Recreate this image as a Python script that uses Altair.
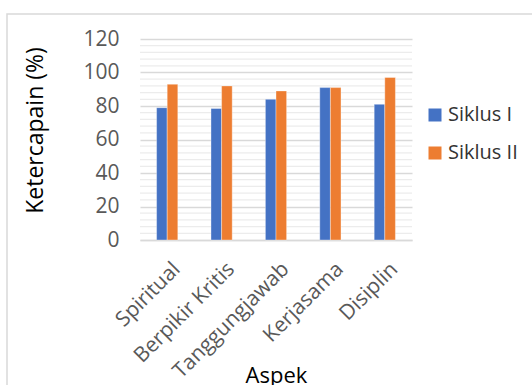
import altair as alt
import pandas as pd

categories = ["Spiritual", "Berpikir Kritis", "Tanggungjawab", "Kerjasama", "Disiplin"]
series_names = ["Siklus I", "Siklus II"]
siklus1 = [79, 78.5, 84, 91, 81]
siklus2 = [93, 92, 89, 91, 97]
y_ticks = [0, 20, 40, 60, 80, 100, 120]
minor_ticks = [v for v in range(4, 120, 4) if v % 20 != 0]
colors = ["#4472C4", "#ED7D31"]

rows = []
for c, a, b in zip(categories, siklus1, siklus2):
    rows.append({"Aspek": c, "Seri": series_names[0], "Nilai": a})
    rows.append({"Aspek": c, "Seri": series_names[1], "Nilai": b})
df = pd.DataFrame(rows)
minor_df = pd.DataFrame({"Nilai": minor_ticks})

FONT = "Open Sans"
yscale = alt.Scale(domain=[0, 120], nice=False, zero=True)

y_axis = alt.Axis(
    title="Ketercapain (%)",
    values=y_ticks,
    labelOverlap=False,
    labelFont=FONT,
    labelFontSize=21,
    labelColor="#595959",
    labelPadding=21,
    ticks=False,
    tickSize=0,
    domain=False,
    gridColor="#d9d9d9",
    gridWidth=1.5,
    titleFont=FONT,
    titleFontSize=23,
    titleFontWeight="normal",
    titleColor="#000000",
    titleX=-105,
    titleY=91,
    titleAlign="center",
    titleBaseline="middle",
)

frame = alt.Chart(pd.DataFrame({"k": [0]})).mark_rect(
    fill=None, stroke="#d9d9d9", strokeWidth=1.5
).encode(x=alt.value(-133), x2=alt.value(600), y=alt.value(-25), y2=alt.value(600))

minor = alt.Chart(minor_df).mark_rule(color="#ececec", strokeWidth=1.2).encode(
    y=alt.Y("Nilai:Q", scale=yscale, axis=y_axis)
)

bars = alt.Chart(df).mark_bar(stroke="#ffffff", strokeWidth=0.6, strokeOpacity=0.6).encode(
    x=alt.X(
        "Aspek:N",
        sort=categories,
        scale=alt.Scale(paddingInner=0.61, paddingOuter=0.305),
        axis=alt.Axis(
            title="Aspek",
            labelAngle=-45,
            labelAlign="right",
            labelBaseline="top",
            labelFont=FONT,
            labelFontSize=21,
            labelColor="#595959",
            labelPadding=18,
            labelOffset=2,
            ticks=False,
            tickSize=0,
            domainColor="#d9d9d9",
            domainWidth=1.5,
            titleFont=FONT,
            titleFontSize=22,
            titleFontWeight="normal",
            titleColor="#000000",
            titleY=142,
            titleBaseline="alphabetic",
        ),
    ),
    xOffset=alt.XOffset("Seri:N", sort=series_names),
    y=alt.Y("Nilai:Q", scale=yscale, axis=y_axis),
    color=alt.Color(
        "Seri:N",
        sort=series_names,
        scale=alt.Scale(domain=series_names, range=colors),
        legend=alt.Legend(
            title=None,
            orient="none",
            legendX=285,
            legendY=66,
            symbolType="square",
            symbolSize=169,
            symbolStrokeWidth=0,
            labelFont=FONT,
            labelFontSize=20,
            labelColor="#333333",
            rowPadding=18,
            labelOffset=3,
        ),
    ),
)

chart = alt.layer(frame, minor, bars).properties(
    width=272,
    height=201,
    autosize=alt.AutoSizeParams(type="none"),
    padding={"left": 140, "top": 39, "right": 120, "bottom": 145},
    background="#ffffff",
).configure_view(stroke=None)

chart.save("out.html", embed_options={"renderer": "svg", "actions": False})
